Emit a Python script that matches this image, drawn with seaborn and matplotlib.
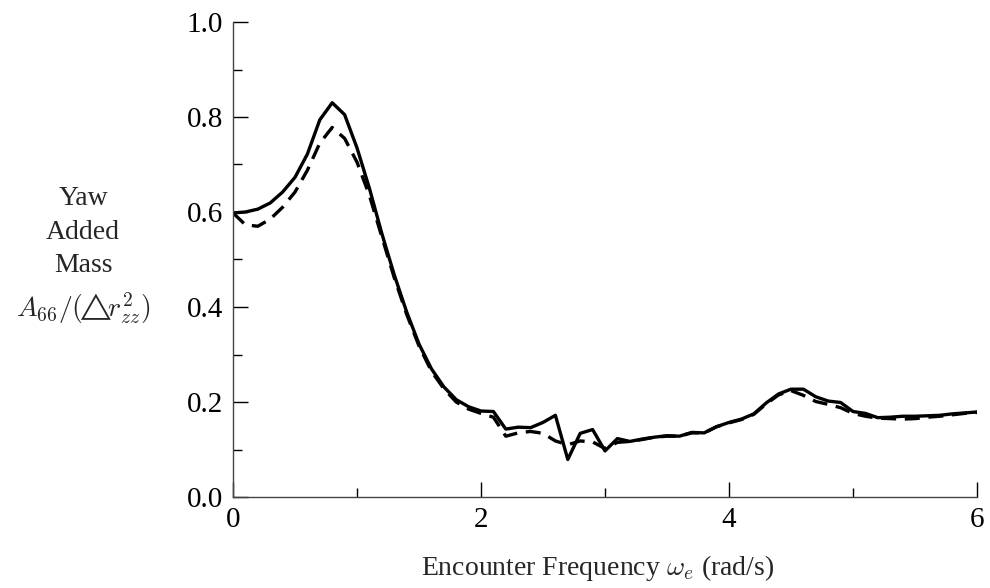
import matplotlib
matplotlib.use("Agg")
import matplotlib.pyplot as plt
from matplotlib.ticker import MultipleLocator, FormatStrFormatter
import seaborn as sns
import pandas as pd

freq = [0.0, 0.1, 0.2, 0.3, 0.4, 0.5, 0.6, 0.7, 0.8, 0.9,
        1.0, 1.1, 1.2, 1.3, 1.4, 1.5, 1.6, 1.7, 1.8, 1.9,
        2.0, 2.1, 2.2, 2.3, 2.4, 2.5, 2.6, 2.7, 2.8, 2.9,
        3.0, 3.1, 3.2, 3.3, 3.4, 3.5, 3.6, 3.7, 3.8, 3.9,
        4.0, 4.1, 4.2, 4.3, 4.4, 4.5, 4.6, 4.7, 4.8, 4.9,
        5.0, 5.1, 5.2, 5.3, 5.4, 5.5, 5.6, 5.7, 5.8, 5.9, 6.0]

solid = [0.598, 0.600, 0.606, 0.619, 0.642, 0.673, 0.722, 0.794, 0.830, 0.805,
         0.735, 0.650, 0.555, 0.468, 0.390, 0.322, 0.270, 0.232, 0.205, 0.190,
         0.181, 0.180, 0.143, 0.147, 0.146, 0.157, 0.172, 0.079, 0.134, 0.142,
         0.097, 0.123, 0.117, 0.122, 0.126, 0.129, 0.128, 0.136, 0.135, 0.148,
         0.157, 0.164, 0.175, 0.198, 0.217, 0.227, 0.227, 0.211, 0.202, 0.199,
         0.180, 0.176, 0.167, 0.168, 0.170, 0.170, 0.171, 0.172, 0.175, 0.177, 0.179]

dashed = [0.598, 0.573, 0.570, 0.585, 0.610, 0.642, 0.688, 0.745, 0.778, 0.755,
          0.705, 0.635, 0.548, 0.462, 0.385, 0.318, 0.265, 0.228, 0.200, 0.185,
          0.176, 0.168, 0.128, 0.135, 0.138, 0.134, 0.118, 0.110, 0.118, 0.116,
          0.102, 0.115, 0.117, 0.121, 0.126, 0.128, 0.128, 0.135, 0.135, 0.148,
          0.156, 0.163, 0.174, 0.196, 0.215, 0.224, 0.214, 0.201, 0.195, 0.188,
          0.176, 0.170, 0.166, 0.165, 0.164, 0.165, 0.168, 0.170, 0.173, 0.176, 0.178]

sns.set_theme(style="ticks")
plt.rcParams['font.family'] = ['Liberation Serif', 'DejaVu Serif']
plt.rcParams['mathtext.fontset'] = 'cm'

fig = plt.figure(figsize=(9.9, 5.88), dpi=100)
ax = fig.add_axes([233/990, 1 - 497/588, (977-233)/990, (497-22)/588])

df = pd.DataFrame({"freq": freq, "solid": solid, "dashed": dashed})
sns.lineplot(data=df, x="freq", y="solid", ax=ax, color="black", lw=2.4)
sns.lineplot(data=df, x="freq", y="dashed", ax=ax, color="black", lw=2.4,
             linestyle=(0, (4.5, 2.6)))

ax.set_xlim(0, 6)
ax.set_ylim(0, 1.0)
ax.xaxis.set_major_locator(MultipleLocator(2))
ax.xaxis.set_minor_locator(MultipleLocator(1))
ax.yaxis.set_major_locator(MultipleLocator(0.2))
ax.yaxis.set_minor_locator(MultipleLocator(0.1))
ax.yaxis.set_major_formatter(FormatStrFormatter('%.1f'))
ax.xaxis.set_major_formatter(FormatStrFormatter('%d'))

ax.tick_params(which='major', direction='in', length=11, width=1.0,
               colors='black', labelsize=21, pad=7)
ax.tick_params(which='minor', direction='in', length=6.5, width=1.0, colors='black')

for s in ['top', 'right']:
    ax.spines[s].set_visible(False)
for s in ['left', 'bottom']:
    ax.spines[s].set_color('#444444')
    ax.spines[s].set_linewidth(1.0)

ax.set_xlabel(r"Encounter Frequency $\omega_e$ (rad/s)", fontsize=20)
ax.xaxis.set_label_coords(0.49, -0.149)
ax.xaxis.label.set_va('center')

ax.set_ylabel("Yaw\nAdded\nMass\n" + r"$A_{66}/(\!\!\triangle\!\! r_{zz}^2)$",
              fontsize=20, rotation=0, ha='center', va='center',
              multialignment='center', linespacing=1.45)
ax.yaxis.set_label_coords(-0.2016, 0.507)

fig.savefig("out.png", dpi=100)
